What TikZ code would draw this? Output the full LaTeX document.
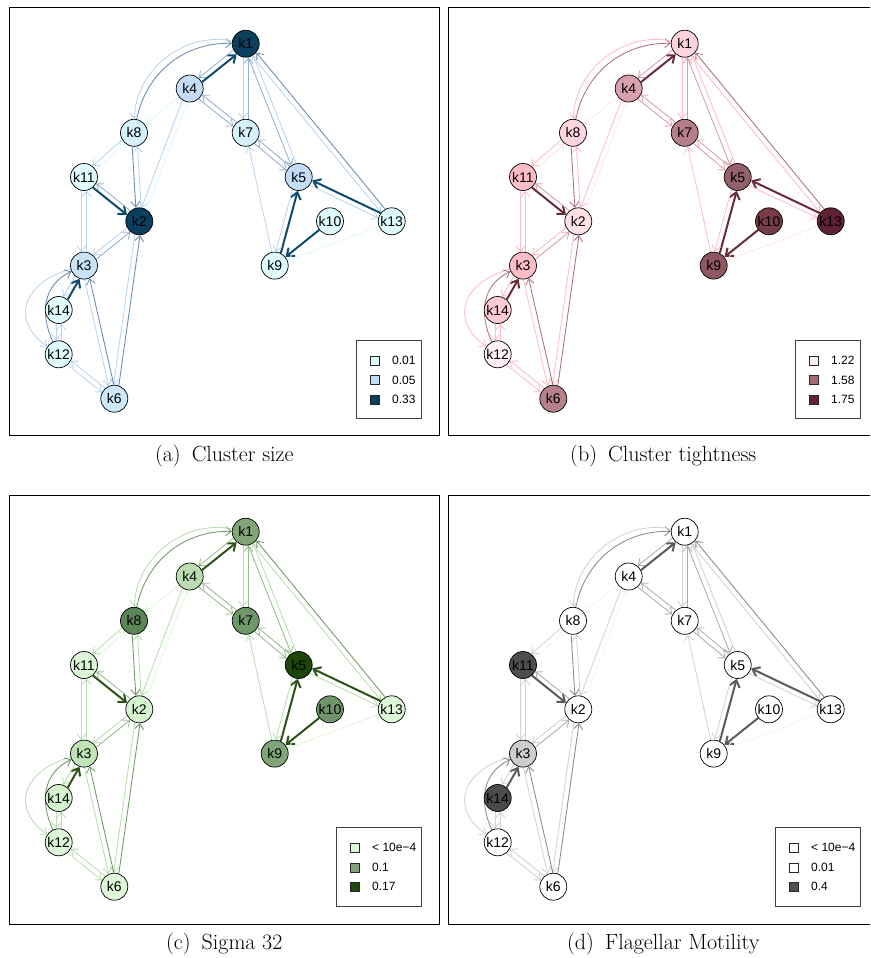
\documentclass[tikz,border=0pt]{standalone}
\usepackage{fontspec}
\newfontfamily\rsans{Liberation Sans}
\usetikzlibrary{arrows.meta,backgrounds,calc}

\tikzset{
  vtx/.style={circle, draw=black, line width=0.7pt, minimum size=27pt, inner sep=0pt,
              font=\rsans\fontsize{14}{14}\selectfont},
  thinedge/.style={-{Straight Barb[length=5.5pt,width=9pt]}, line width=0.85pt},
  heavy/.style={-{Straight Barb[length=6.5pt,width=10.5pt]}, line width=2pt},
  w0/.style={thinedge, draw=ec0},
  w1/.style={thinedge, draw=ec1},
  w2/.style={thinedge, draw=ec2},
  w3/.style={thinedge, draw=ec3},
  w4/.style={heavy, draw=ec4},
  % one of two opposite edges: a straight line kept to the right of the centre line
  pair/.style={to path={($(\tikztostart)!13.9pt!-11:(\tikztotarget)$) --
                        ($(\tikztotarget)!13.9pt!11:(\tikztostart)$) \tikztonodes}},
  frame/.style={draw=black, line width=0.9pt},
  legbox/.style={draw=black!75, line width=0.9pt},
  legsq/.style={draw=black!85, line width=0.6pt, minimum size=9pt, inner sep=0pt},
  legtxt/.style={anchor=west, inner sep=0pt, font=\rsans\fontsize{12}{12}\selectfont},
  subcap/.style={anchor=base, inner sep=0pt, font=\fontsize{22}{26}\selectfont}
}

% vertex fill and edge shade helpers
\newcommand\setnf[2]{\definecolor{nf#1}{HTML}{#2}}
\newcommand\edgepal[5]{%
  \definecolor{ec0}{HTML}{#1}\definecolor{ec1}{HTML}{#2}%
  \definecolor{ec2}{HTML}{#3}\definecolor{ec3}{HTML}{#4}%
  \definecolor{ec4}{HTML}{#5}}

% the regulatory network in panel coordinates; #1 prefixes the node names
\newcommand\netgraph[1]{%
  \node[vtx, fill=nf1]  (#1k1)  at (245.7, -43.7) {k1};
  \node[vtx, fill=nf4]  (#1k4)  at (189.7, -88.5) {k4};
  \node[vtx, fill=nf8]  (#1k8)  at (134.0,-132.8) {k8};
  \node[vtx, fill=nf7]  (#1k7)  at (245.7,-132.8) {k7};
  \node[vtx, fill=nf11] (#1k11) at ( 84.0,-177.0) {k11};
  \node[vtx, fill=nf5]  (#1k5)  at (298.7,-177.0) {k5};
  \node[vtx, fill=nf2]  (#1k2)  at (139.3,-221.3) {k2};
  \node[vtx, fill=nf10] (#1k10) at (330.0,-221.3) {k10};
  \node[vtx, fill=nf13] (#1k13) at (391.7,-221.3) {k13};
  \node[vtx, fill=nf3]  (#1k3)  at ( 84.0,-265.6) {k3};
  \node[vtx, fill=nf9]  (#1k9)  at (274.7,-265.6) {k9};
  \node[vtx, fill=nf14] (#1k14) at ( 58.7,-310.0) {k14};
  \node[vtx, fill=nf12] (#1k12) at ( 58.7,-354.3) {k12};
  \node[vtx, fill=nf6]  (#1k6)  at (114.3,-398.7) {k6};
  \begin{pgfonlayer}{background}
    \draw[w3] (#1k8) to[bend left=40] (#1k1);
    \draw[w1] (#1k1) to[bend right=50] (#1k8);
    \draw[w4] (#1k4) to[pair] (#1k1);
    \draw[w2] (#1k1) to[pair] (#1k4);
    \draw[w0] (#1k4) -- (#1k8);
    \draw[w2] (#1k4) to[pair] (#1k7);
    \draw[w2] (#1k7) to[pair] (#1k4);
    \draw[w1] (#1k4) to[pair] (#1k2);
    \draw[w0] (#1k2) to[pair] (#1k4);
    \draw[w1] (#1k1) to[pair] (#1k7);
    \draw[w2] (#1k7) to[pair] (#1k1);
    \draw[w2] (#1k1) to[pair] (#1k5);
    \draw[w1] (#1k5) to[pair] (#1k1);
    \draw[w3] (#1k13) to[pair] (#1k1);
    \draw[w1] (#1k1) to[pair] (#1k13);
    \draw[w2] (#1k7) to[pair] (#1k5);
    \draw[w2] (#1k5) to[pair] (#1k7);
    \draw[w1] (#1k8) to[pair] (#1k11);
    \draw[w0] (#1k11) to[pair] (#1k8);
    \draw[w3] (#1k8) to[pair] (#1k2);
    \draw[w1] (#1k2) to[pair] (#1k8);
    \draw[w4] (#1k11) to[pair] (#1k2);
    \draw[w2] (#1k2) to[pair] (#1k11);
    \draw[w1] (#1k11) to[pair] (#1k3);
    \draw[w1] (#1k3) to[pair] (#1k11);
    \draw[w2] (#1k3) to[pair] (#1k2);
    \draw[w1] (#1k2) to[pair] (#1k3);
    \draw[w3] (#1k6) to[pair] (#1k2);
    \draw[w1] (#1k2) to[pair] (#1k6);
    \draw[w3] (#1k6) to[pair] (#1k3);
    \draw[w1] (#1k3) to[pair] (#1k6);
    \draw[w4] (#1k14) to[pair] (#1k3);
    \draw[w1] (#1k3) to[pair] (#1k14);
    \draw[w1] (#1k3) to[out=195, in=145, looseness=1.5] (#1k12);
    \draw[w3] (#1k12) to[out=115, in=205, looseness=1.1] (#1k3);
    \draw[w1] (#1k14) to[pair] (#1k12);
    \draw[w1] (#1k12) to[pair] (#1k14);
    \draw[w1] (#1k12) to[pair] (#1k6);
    \draw[w1] (#1k6) to[pair] (#1k12);
    \draw[w4] (#1k9) to[pair] (#1k5);
    \draw[w1] (#1k5) to[pair] (#1k9);
    \draw[w1] (#1k9) -- (#1k7);
    \draw[w4] (#1k10) -- (#1k9);
    \draw[w4] (#1k13) to[pair] (#1k5);
    \draw[w1] (#1k5) to[pair] (#1k13);
    \draw[w0] (#1k13) -- (#1k9);
  \end{pgfonlayer}
}

\begin{document}
\begin{tikzpicture}[x=1pt, y=1pt]
\useasboundingbox (0,0) rectangle (870,-958);
\clip (0,0) rectangle (870,-958);

% (a) cluster size
\begin{scope}
  \setnf{1}{0B3F5E}\setnf{2}{0B3F5E}\setnf{3}{C9E3F9}\setnf{4}{C4DCF6}
  \setnf{5}{C3DDF7}\setnf{6}{CDE7FB}\setnf{7}{D5F1FB}\setnf{8}{D5F1FB}
  \setnf{9}{DFFCFD}\setnf{10}{DFFCFD}\setnf{11}{DFFCFD}\setnf{12}{DFFCFD}
  \setnf{13}{DFFCFD}\setnf{14}{DFFCFD}
  \edgepal{DDF8FB}{B8D4EE}{92B1D2}{6A8AAD}{0D4A6B}
  \draw[frame] (9.5,-7) rectangle (439,-435.7);
  \netgraph{a}
  \draw[legbox] (356.7,-340) rectangle (421.7,-418.3);
  \node[legsq, fill=nf9] (aq1) at (375,-360.7) {};
  \node[legsq, fill=nf4] (aq2) at (375,-380.2) {};
  \node[legsq, fill=nf1] (aq3) at (375,-399.5) {};
  \node[legtxt] (at1) at (392,-360.7) {0.01};
  \node[legtxt] (at2) at (392,-380.2) {0.05};
  \node[legtxt] (at3) at (392,-399.5) {0.33};
  \node[subcap] (asc) at (224.3,-461) {(a)\hspace{0.5em}Cluster size};
\end{scope}

% (b) cluster tightness
\begin{scope}[shift={(439,0)}]
  \setnf{1}{FFD3DD}\setnf{2}{FFE1E7}\setnf{3}{FFBDC8}\setnf{4}{D9A1AE}
  \setnf{5}{94606A}\setnf{6}{B5808A}\setnf{7}{B57E88}\setnf{8}{FFD6DF}
  \setnf{9}{8E5863}\setnf{10}{773A47}\setnf{11}{FFBCC7}\setnf{12}{FFF0F6}
  \setnf{13}{5F2233}\setnf{14}{FFCCD5}
  \edgepal{FFE6EC}{FFBCC8}{DA9CAA}{A8707C}{6A2A3A}
  \draw[frame] (9.5,-7) rectangle (439,-435.7);
  \netgraph{b}
  \draw[legbox] (356.7,-340) rectangle (421.7,-418.3);
  \definecolor{lg1}{HTML}{FFEFF5}\definecolor{lg2}{HTML}{9F6B75}\definecolor{lg3}{HTML}{5F2535}
  \node[legsq, fill=lg1] (bq1) at (375,-360.7) {};
  \node[legsq, fill=lg2] (bq2) at (375,-380.2) {};
  \node[legsq, fill=lg3] (bq3) at (375,-399.5) {};
  \node[legtxt] (bt1) at (392,-360.7) {1.22};
  \node[legtxt] (bt2) at (392,-380.2) {1.58};
  \node[legtxt] (bt3) at (392,-399.5) {1.75};
  \node[subcap] (bsc) at (224.3,-461) {(b)\hspace{0.5em}Cluster tightness};
\end{scope}

% (c) sigma 32
\begin{scope}[shift={(0,-488)}]
  \setnf{1}{80A677}\setnf{2}{D6F5CE}\setnf{3}{BFE4B6}\setnf{4}{BADDB1}
  \setnf{5}{1C4508}\setnf{6}{DDF8D6}\setnf{7}{6F986A}\setnf{8}{5C8557}
  \setnf{9}{80A579}\setnf{10}{6F956B}\setnf{11}{DCF7D5}\setnf{12}{DCF7D5}
  \setnf{13}{DEF9D8}\setnf{14}{D3F3CC}
  \edgepal{E0F8DA}{B8DEB0}{94BD8A}{6E9766}{2B5218}
  \draw[frame] (9.5,-7) rectangle (439,-436);
  \netgraph{c}
  \draw[legbox] (336.7,-339.3) rectangle (421.7,-418.7);
  \definecolor{lg1}{HTML}{DFF9D8}\definecolor{lg2}{HTML}{7FA078}\definecolor{lg3}{HTML}{1E4A0C}
  \node[legsq, fill=lg1] (cq1) at (354.3,-359.7) {};
  \node[legsq, fill=lg2] (cq2) at (354.3,-379.3) {};
  \node[legsq, fill=lg3] (cq3) at (354.3,-398.7) {};
  \node[legtxt] (ct1) at (372,-359.7) {< 10e−4};
  \node[legtxt] (ct2) at (372,-379.3) {0.1};
  \node[legtxt] (ct3) at (372,-398.7) {0.17};
  \node[subcap] (csc) at (224.3,-461) {(c)\hspace{0.5em}Sigma 32};
\end{scope}

% (d) flagellar motility
\begin{scope}[shift={(439,-488)}]
  \setnf{1}{FFFFFF}\setnf{2}{FFFFFF}\setnf{3}{CDCDCD}\setnf{4}{FFFFFF}
  \setnf{5}{FFFFFF}\setnf{6}{FFFFFF}\setnf{7}{FFFFFF}\setnf{8}{FFFFFF}
  \setnf{9}{FFFFFF}\setnf{10}{FFFFFF}\setnf{11}{4D4D4D}\setnf{12}{FFFFFF}
  \setnf{13}{FFFFFF}\setnf{14}{4B4B4B}
  \edgepal{F4F4F4}{D2D2D2}{ADADAD}{8A8A8A}{5A5A5A}
  \draw[frame] (9.5,-7) rectangle (439,-436);
  \netgraph{d}
  \draw[legbox] (336.7,-339.3) rectangle (421.7,-418.7);
  \definecolor{lg1}{HTML}{FFFFFF}\definecolor{lg2}{HTML}{FFFFFF}\definecolor{lg3}{HTML}{505050}
  \node[legsq, fill=lg1] (dq1) at (354.3,-359.7) {};
  \node[legsq, fill=lg2] (dq2) at (354.3,-379.3) {};
  \node[legsq, fill=lg3] (dq3) at (354.3,-398.7) {};
  \node[legtxt] (dt1) at (372,-359.7) {< 10e−4};
  \node[legtxt] (dt2) at (372,-379.3) {0.01};
  \node[legtxt] (dt3) at (372,-398.7) {0.4};
  \node[subcap] (dsc) at (224.3,-461) {(d)\hspace{0.5em}Flagellar Motility};
\end{scope}
\end{tikzpicture}
\end{document}
